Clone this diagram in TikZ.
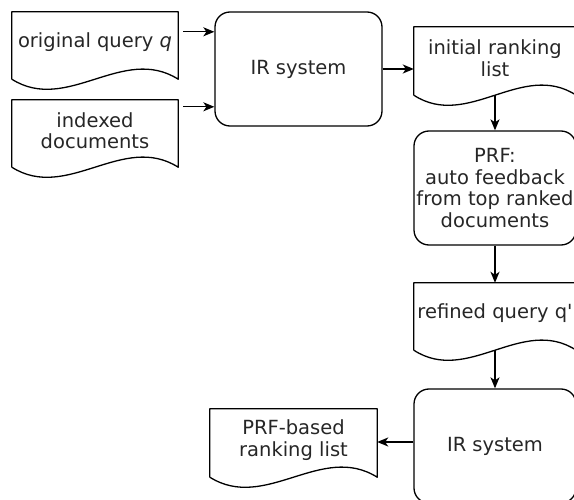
\documentclass[tikz,border=0pt]{standalone}
\usepackage{fontspec}
\setmainfont{DejaVu Sans}
\usetikzlibrary{arrows.meta,calc}
\tikzset{
  line/.style={line width=1.3pt, draw=black, line join=round},
  txt/.style={align=center, inner sep=0pt, text=black!85, font=\fontsize{19.5}{21.5}\selectfont},
  docnode/.style={txt, rectangle, draw=none},
  procbox/.style={txt, rectangle, line, rounded corners=15pt},
  arr/.style={line width=1.4pt, draw=black, -{Stealth[length=11pt,width=9pt,inset=3pt]}},
}
\newcommand{\docshape}[1]{%
  \coordinate (#1-bl) at ([shift={(0,6)}]#1.south west);
  \coordinate (#1-br) at ([shift={(0,6)}]#1.south east);
  \draw[line] (#1-bl) -- (#1.north west) -- (#1.north east) -- (#1-br)
    .. controls ($(#1-br)!0.333!(#1-bl)+(0,-35)$) and ($(#1-br)!0.667!(#1-bl)+(0,35)$) .. (#1-bl);
}
\begin{document}
\begin{tikzpicture}[x=1pt,y=-1pt]
\useasboundingbox (0,0) rectangle (574,500);
% documents
\node[docnode, minimum width=166pt, minimum height=61pt] (oq) at (95,42.5) {original query \textit{q}};
\node[docnode, minimum width=166pt, minimum height=61pt] (idx) at (95,130.5) {indexed\\documents};
\node[docnode, minimum width=162pt, minimum height=62pt] (irl) at (495,58) {initial ranking\\list};
\node[docnode, minimum width=162pt, minimum height=61pt] (rq) at (495,313.5) {refined query q\textquotesingle};
\node[docnode, minimum width=167pt, minimum height=62pt] (prfl) at (293.5,440) {PRF-based\\ranking list};
\docshape{oq}
\docshape{idx}
\docshape{irl}
\docshape{rq}
\docshape{prfl}
% process boxes
\node[procbox, minimum width=167pt, minimum height=114pt] (ir1) at (298.5,69) {IR system};
\node[procbox, minimum width=162pt, minimum height=114pt] (prf) at (495,188) {PRF:\\auto feedback\\from top ranked\\documents};
\node[procbox, minimum width=162pt, minimum height=114pt] (ir2) at (495,446) {IR system};
% connectors
\coordinate (a1) at ([shift={(5,20)}]oq.north east);
\coordinate (a2) at ([shift={(5,7)}]idx.north east);
\draw[arr] (a1) -- (a1 -| ir1.west);
\draw[arr] (a2) -- (a2 -| ir1.west);
\draw[arr] (ir1.east) -- (ir1.east -| irl.west);
\draw[arr] (irl-br -| irl.south) -- (prf.north);
\draw[arr] (prf.south) -- (rq.north);
\draw[arr] (rq-br -| rq.south) -- (ir2.north);
\coordinate (a3) at ([shift={(0,2)}]prfl.east);
\draw[arr] (a3 -| ir2.west) -- (a3);
\end{tikzpicture}
\end{document}
